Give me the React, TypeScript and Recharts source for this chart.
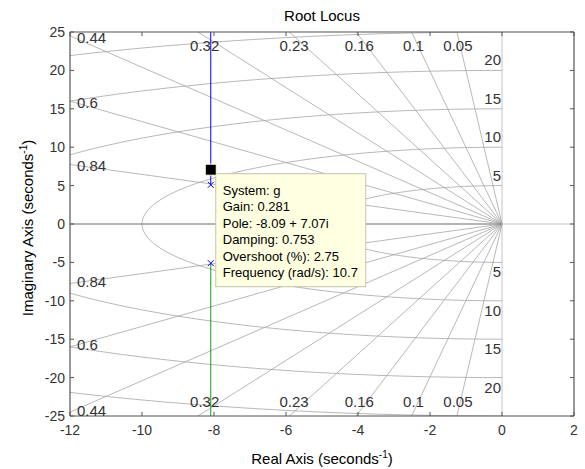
import React from 'react';
import { ComposedChart, Line, Scatter, XAxis, YAxis, ReferenceLine, ReferenceDot, Label } from 'recharts';

const FONT = '"Liberation Sans", Arial, Helvetica, sans-serif';

// axis ticks
const xTicks = [-12, -10, -8, -6, -4, -2, 0, 2];
const yTicks = [-25, -20, -15, -10, -5, 0, 5, 10, 15, 20, 25];

// sgrid values
const dampingValues = [0.05, 0.1, 0.16, 0.23, 0.32, 0.44, 0.6, 0.84];
const dampingLabels = ['0.05', '0.1', '0.16', '0.23', '0.32', '0.44', '0.6', '0.84'];
const wnValues = [5, 10, 15, 20, 25];
const wnLabels = ['5', '10', '15', '20'];

// root locus of g
const upperBranch = [{ x: -8.09, y: 5.1 }, { x: -8.09, y: 30 }];
const lowerBranch = [{ x: -8.09, y: -5.1 }, { x: -8.09, y: -30 }];
const openLoopPoles = [{ x: -8.09, y: 5.1 }, { x: -8.09, y: -5.1 }];
const selectedPole = { x: -8.09, y: 7.07 };
const dataTipLines = [
  'System: g',
  'Gain: 0.281',
  'Pole: -8.09 + 7.07i',
  'Damping: 0.753',
  'Overshoot (%): 2.75',
  'Frequency (rad/s): 10.7',
];

const axisColor = '#555555';
const gridColor = '#a6a6a6';
const textColor = '#333333';

// grid geometry built from the sgrid values
const arc = (r: number) => {
  const pts = [];
  for (let a = 90; a <= 270; a += 2) {
    const t = (a * Math.PI) / 180;
    pts.push({ x: r * Math.cos(t), y: r * Math.sin(t) });
  }
  return pts;
};
const ray = (z: number, sign: number) => [
  { x: 0, y: 0 },
  { x: -60 * z, y: sign * 60 * Math.sqrt(1 - z * z) },
];

const BottomTick = (props: any) => {
  const { x, y, payload } = props;
  return (
    <g>
      <line x1={x} y1={y} x2={x} y2={y - 4} stroke={axisColor} />
      <text x={x} y={y + 19} textAnchor="middle" fontSize={14} fontFamily={FONT} fill={textColor}>
        {payload.value}
      </text>
    </g>
  );
};
const LeftTick = (props: any) => {
  const { x, y, payload } = props;
  return (
    <g>
      <line x1={x} y1={y} x2={x + 4} y2={y} stroke={axisColor} />
      <text x={x - 5} y={y + 5} textAnchor="end" fontSize={14} fontFamily={FONT} fill={textColor}>
        {payload.value}
      </text>
    </g>
  );
};
const TopTick = (props: any) => <line x1={props.x} y1={props.y} x2={props.x} y2={props.y + 4} stroke={axisColor} />;
const RightTick = (props: any) => <line x1={props.x} y1={props.y} x2={props.x - 4} y2={props.y} stroke={axisColor} />;

const XTitle = (props: any) => {
  const { viewBox } = props;
  return (
    <text x={viewBox.x + viewBox.width / 2} y={viewBox.y + 48} textAnchor="middle" fontSize={15} fontFamily={FONT} fill="#000">
      Real Axis (seconds<tspan dy={-6} fontSize={10}>-1</tspan><tspan dy={6}>)</tspan>
    </text>
  );
};
const YTitle = (props: any) => {
  const { viewBox } = props;
  const x = viewBox.x + 3;
  const y = viewBox.y + viewBox.height / 2 + 4;
  return (
    <text x={x} y={y} transform={`rotate(-90 ${x} ${y})`} textAnchor="middle" fontSize={15} fontFamily={FONT} fill="#000">
      Imaginary Axis (seconds<tspan dy={-6} fontSize={10}>-1</tspan><tspan dy={6}>)</tspan>
    </text>
  );
};
const Title = (props: any) => {
  const { viewBox } = props;
  return (
    <text x={viewBox.x + viewBox.width / 2} y={viewBox.y - 10} textAnchor="middle" fontSize={15} fontFamily={FONT} fill="#000">
      Root Locus
    </text>
  );
};

const gridText = (text: string, dx: number, dy: number, anchor: string) => (p: any) => (
  <text x={p.cx + dx} y={p.cy + dy} textAnchor={anchor} fontSize={15} fontFamily={FONT} fill={textColor}>
    {text}
  </text>
);

const PoleMark = (p: any) => (
  <g stroke="#0000ff" strokeWidth={1}>
    <line x1={p.cx - 3} y1={p.cy - 3} x2={p.cx + 3} y2={p.cy + 3} />
    <line x1={p.cx - 3} y1={p.cy + 3} x2={p.cx + 3} y2={p.cy - 3} />
  </g>
);

const DataTip = (p: any) => {
  const bx = p.cx + 5;
  const by = p.cy + 4;
  return (
    <g>
      <rect x={bx} y={by} width={150} height={113} fill="#ffffe1" stroke="#c4c4b0" />
      {dataTipLines.map((t, i) => (
        <text key={i} x={bx + 7} y={by + 21 + i * 16.5} fontSize={13} fontFamily={FONT} fill="#000">
          {t}
        </text>
      ))}
      <rect x={p.cx - 5.5} y={p.cy - 5.5} width={11} height={11} fill="#000" stroke="#ffffe1" />
    </g>
  );
};

export default function App() {
  const labelDots: React.ReactNode[] = [];
  dampingValues.forEach((z, i) => {
    const s = Math.sqrt(1 - z * z) / z;
    const txt = dampingLabels[i];
    if (12 * s >= 25) {
      const re = -24.45 / s;
      labelDots.push(<ReferenceDot key={`dt${i}`} x={re} y={25} r={0} ifOverflow="visible" shape={gridText(txt, 0, 19, 'middle')} />);
      labelDots.push(<ReferenceDot key={`db${i}`} x={re} y={-25} r={0} ifOverflow="visible" shape={gridText(txt, 0, -9, 'middle')} />);
    } else {
      labelDots.push(<ReferenceDot key={`dl${i}`} x={-12} y={12 * s} r={0} ifOverflow="visible" shape={gridText(txt, 7, 7, 'start')} />);
      labelDots.push(<ReferenceDot key={`dm${i}`} x={-12} y={-12 * s} r={0} ifOverflow="visible" shape={gridText(txt, 7, 3.5, 'start')} />);
    }
  });
  wnLabels.forEach((txt, i) => {
    const r = wnValues[i];
    labelDots.push(<ReferenceDot key={`wu${i}`} x={0} y={r} r={0} ifOverflow="visible" shape={gridText(txt, -1, -5, 'end')} />);
    labelDots.push(<ReferenceDot key={`wl${i}`} x={0} y={-r} r={0} ifOverflow="visible" shape={gridText(txt, -1, 15, 'end')} />);
  });

  return (
    <div style={{ position: 'absolute', left: 0, top: 0, background: '#fff' }}>
      <ComposedChart width={585} height={469} margin={{ top: 31, right: 10, bottom: 23, left: 30 }}>
        <XAxis
          type="number"
          dataKey="x"
          domain={[-12, 2]}
          ticks={xTicks}
          allowDataOverflow
          height={30}
          tickSize={0}
          tickMargin={0}
          tick={<BottomTick />}
          axisLine={{ stroke: axisColor, strokeWidth: 1.2 }}
          interval={0}
        >
          <Label content={<XTitle />} />
        </XAxis>
        <XAxis
          xAxisId="top"
          orientation="top"
          type="number"
          dataKey="x"
          domain={[-12, 2]}
          ticks={xTicks}
          allowDataOverflow
          height={1}
          tickSize={0}
          tickMargin={0}
          tick={<TopTick />}
          axisLine={{ stroke: axisColor, strokeWidth: 1.2 }}
          interval={0}
        >
          <Label content={<Title />} />
        </XAxis>
        <YAxis
          type="number"
          dataKey="y"
          domain={[-25, 25]}
          ticks={yTicks}
          allowDataOverflow
          width={40}
          tickSize={0}
          tickMargin={0}
          tick={<LeftTick />}
          axisLine={{ stroke: axisColor, strokeWidth: 1.2 }}
          interval={0}
        >
          <Label content={<YTitle />} />
        </YAxis>
        <YAxis
          yAxisId="right"
          orientation="right"
          type="number"
          dataKey="y"
          domain={[-25, 25]}
          ticks={yTicks}
          allowDataOverflow
          width={1}
          tickSize={0}
          tickMargin={0}
          tick={<RightTick />}
          axisLine={{ stroke: axisColor, strokeWidth: 1.2 }}
          interval={0}
        />

        <ReferenceLine x={0} stroke="#c4c4c4" strokeWidth={1} />
        <ReferenceLine y={0} stroke="#c4c4c4" strokeWidth={1} />

        {wnValues.map((r) => (
          <Line key={`c${r}`} data={arc(r)} dataKey="y" stroke={gridColor} strokeWidth={0.8} dot={false} activeDot={false} isAnimationActive={false} />
        ))}
        {dampingValues.map((z) => (
          <Line key={`zu${z}`} data={ray(z, 1)} dataKey="y" stroke={gridColor} strokeWidth={0.8} dot={false} activeDot={false} isAnimationActive={false} />
        ))}
        {dampingValues.map((z) => (
          <Line key={`zl${z}`} data={ray(z, -1)} dataKey="y" stroke={gridColor} strokeWidth={0.8} dot={false} activeDot={false} isAnimationActive={false} />
        ))}
        <Line data={ray(1, 1)} dataKey="y" stroke="#878787" strokeWidth={1.2} dot={false} activeDot={false} isAnimationActive={false} />

        <Line data={upperBranch} dataKey="y" stroke="#0000ff" strokeWidth={1} dot={false} activeDot={false} isAnimationActive={false} />
        <Line data={lowerBranch} dataKey="y" stroke="#1a9a1a" strokeWidth={1} dot={false} activeDot={false} isAnimationActive={false} />
        <Scatter data={openLoopPoles} dataKey="y" shape={<PoleMark />} isAnimationActive={false} />

        {labelDots}

        <ReferenceDot x={selectedPole.x} y={selectedPole.y} r={0} ifOverflow="visible" shape={<DataTip />} />
      </ComposedChart>
    </div>
  );
}
